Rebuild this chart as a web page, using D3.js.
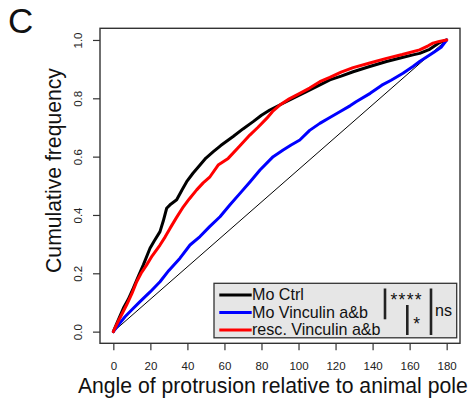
<!DOCTYPE html>
<html>
<head>
<meta charset="utf-8">
<script src="https://cdn.jsdelivr.net/npm/d3@7"></script>
<style>
  html, body { margin: 0; padding: 0; background: #fff; }
  svg { display: block; font-family: "Liberation Sans", Arial, Helvetica, sans-serif; }
</style>
</head>
<body>
<svg id="chart" width="475" height="403"></svg>
<script>
// ---------- data ----------
const seriesNames = ["Mo Ctrl", "Mo Vinculin a&b", "resc. Vinculin a&b"];
const seriesColors = ["#000000", "#0000ff", "#ff0000"];

const angleCtrl = [0,3,5.4,8,10.8,13.5,16.2,19.8,22,25.2,27,28.8,31,34.2,37,39.6,43,46.8,50,54,58,64.7,70,75.5,80,84.5,91.7,100.7,109.7,116.9,123,129.5,138,147.5,156,161.8,165.4,170.8,176.2,180];
const freqCtrl  = [0,0.045,0.08,0.11,0.149,0.19,0.229,0.286,0.31,0.343,0.38,0.423,0.437,0.452,0.485,0.514,0.543,0.571,0.595,0.617,0.638,0.669,0.695,0.72,0.742,0.76,0.783,0.812,0.84,0.863,0.876,0.891,0.908,0.926,0.94,0.949,0.954,0.968,0.991,1];

const angleVinc = [0,3,6.3,10,14.4,20,25.2,30,36,41.4,46.8,52,57.6,63,68.4,74,79.2,86.3,91.7,96,100.7,106,111.5,116,122.3,128,131.3,138.7,145,150,156.4,162,165.4,170,173.5,177,180];
const freqVinc  = [0,0.025,0.051,0.075,0.103,0.137,0.171,0.21,0.252,0.297,0.326,0.36,0.394,0.435,0.474,0.515,0.554,0.6,0.623,0.64,0.657,0.69,0.714,0.731,0.754,0.775,0.789,0.817,0.845,0.862,0.886,0.91,0.926,0.945,0.96,0.975,1];

const angleResc = [0,3,7.2,10,12.6,15,18,21,25.2,28,30.6,34,37.8,41,45,48.5,52.2,56.6,62,68,73.7,78,82.8,86,89.9,95,100.7,106,111.5,116.9,123,129.5,138,147.5,156,165.4,170,172.6,176,180];
const freqResc  = [0,0.04,0.092,0.13,0.171,0.2,0.229,0.26,0.297,0.325,0.354,0.39,0.428,0.455,0.486,0.51,0.531,0.571,0.594,0.635,0.674,0.70,0.731,0.755,0.777,0.798,0.817,0.835,0.857,0.872,0.89,0.905,0.92,0.937,0.95,0.966,0.98,0.989,0.995,1];

const xTicks = [0,20,40,60,80,100,120,140,160,180];
const yTicks = [0,0.2,0.4,0.6,0.8,1.0];
const diagonal = [[0,0],[180,1]];
const sigLabels = ["****", "*", "ns"];

// ---------- layout ----------
const svg = d3.select("#chart");
const L = 100, R = 460, T = 28.3, B = 343.3;
const x = d3.scaleLinear().domain([-7.2, 187.2]).range([L, R]);
const y = d3.scaleLinear().domain([-0.04, 1.04]).range([B, T]);

// panel letter
svg.append("text").attr("x", 8).attr("y", 33).attr("font-size", 35).attr("fill", "#111").text("C");

// curves
const line = d3.line().x(d => x(d[0])).y(d => y(d[1]));
svg.append("path").datum(diagonal).attr("d", line)
  .attr("fill", "none").attr("stroke", "#000").attr("stroke-width", 1);

const series = [
  d3.zip(angleCtrl, freqCtrl),
  d3.zip(angleVinc, freqVinc),
  d3.zip(angleResc, freqResc)
];
series.forEach((s, i) => {
  svg.append("path").datum(s).attr("d", line)
    .attr("fill", "none").attr("stroke", seriesColors[i])
    .attr("stroke-width", 3).attr("stroke-linejoin", "round").attr("stroke-linecap", "round");
});

// box
svg.append("rect").attr("x", L).attr("y", T).attr("width", R - L).attr("height", B - T)
  .attr("fill", "none").attr("stroke", "#333").attr("stroke-width", 1.4);

// x axis
const gx = svg.append("g").attr("transform", `translate(0,${B})`)
  .call(d3.axisBottom(x).tickValues(xTicks).tickSize(7).tickSizeOuter(0).tickPadding(11.5).tickFormat(d3.format("d")));
gx.select(".domain").remove();
gx.selectAll("line").attr("stroke", "#333").attr("stroke-width", 1.2);
gx.selectAll("text").attr("font-size", 11.5).attr("fill", "#222").attr("font-family", "Liberation Sans, Arial, sans-serif");

// y axis
const gy = svg.append("g").attr("transform", `translate(${L},0)`)
  .call(d3.axisLeft(y).tickValues(yTicks).tickSize(7).tickSizeOuter(0).tickFormat(d3.format(".1f")));
gy.select(".domain").remove();
gy.selectAll("line").attr("stroke", "#333").attr("stroke-width", 1.2);
gy.selectAll("text")
  .attr("x", null).attr("dy", null)
  .attr("text-anchor", "middle")
  .attr("transform", "translate(-18.3,0) rotate(-90)")
  .attr("font-size", 11.5).attr("fill", "#222").attr("font-family", "Liberation Sans, Arial, sans-serif");

// axis titles
svg.append("text").attr("x", 272.8).attr("y", 393.3).attr("text-anchor", "middle")
  .attr("font-size", 21.2).attr("fill", "#111").text("Angle of protrusion relative to animal pole");
svg.append("text").attr("transform", "translate(60.5,170.5) rotate(-90)").attr("text-anchor", "middle")
  .attr("font-size", 21.2).attr("fill", "#111").text("Cumulative frequency");

// legend
const leg = svg.append("g");
leg.append("rect").attr("x", 214).attr("y", 283.3).attr("width", 242.7).attr("height", 54.5)
  .attr("fill", "#e6e6e6").attr("stroke", "#333").attr("stroke-width", 1.3);
const rowLine = [295, 312.5, 330];
seriesNames.forEach((n, i) => {
  leg.append("line").attr("x1", 219.3).attr("x2", 251.7).attr("y1", rowLine[i]).attr("y2", rowLine[i])
    .attr("stroke", seriesColors[i]).attr("stroke-width", 3);
  leg.append("text").attr("x", 252).attr("y", rowLine[i] + 5.3).attr("font-size", 16.1).attr("fill", "#111").text(n);
});

// significance marks
const sig = svg.append("g").attr("stroke", "#222").attr("stroke-width", 2.6);
sig.append("line").attr("x1", 385).attr("x2", 385).attr("y1", 288.5).attr("y2", 319.3);
sig.append("line").attr("x1", 407.3).attr("x2", 407.3).attr("y1", 305).attr("y2", 335);
sig.append("line").attr("x1", 431).attr("x2", 431).attr("y1", 288.5).attr("y2", 335);
svg.append("text").attr("x", 390.5).attr("y", 305.5).attr("font-size", 17.5).attr("fill", "#111")
  .attr("textLength", 31).attr("lengthAdjust", "spacing").text(sigLabels[0]);
svg.append("text").attr("x", 416.7).attr("y", 330).attr("text-anchor", "middle").attr("font-size", 17.5).attr("fill", "#111").text(sigLabels[1]);
svg.append("text").attr("x", 435).attr("y", 316).attr("font-size", 16.1).attr("fill", "#111").text(sigLabels[2]);
</script>
</body>
</html>
